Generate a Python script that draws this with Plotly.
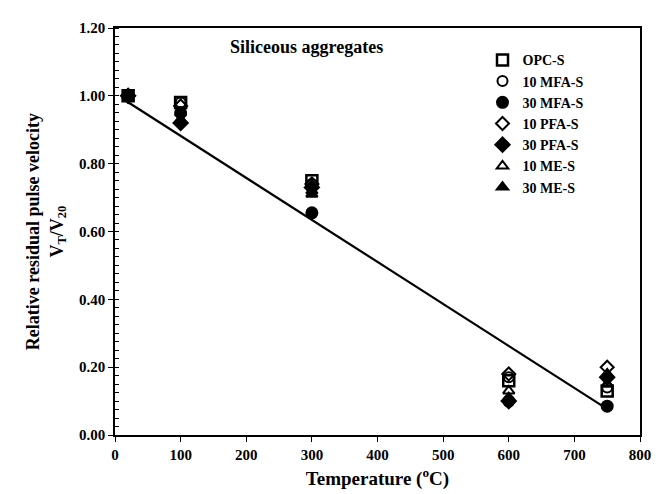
import plotly.graph_objects as go

temps = [20, 100, 300, 600, 750]
series_names = ["OPC-S", "10 MFA-S", "30 MFA-S", "10 PFA-S", "30 PFA-S", "10 ME-S", "30 ME-S"]
opc_s = [1.00, 0.98, 0.75, 0.16, 0.13]
mfa10_s = [1.00, 0.98, 0.74, 0.17, 0.14]
mfa30_s = [1.00, 0.95, 0.655, 0.10, 0.085]
pfa10_s = [1.00, 0.97, 0.74, 0.18, 0.20]
pfa30_s = [1.00, 0.92, 0.73, 0.10, 0.17]
me10_s = [1.00, 0.95, 0.72, 0.13, 0.15]
me30_s = [1.00, 0.93, 0.71, 0.11, 0.18]
fit_x = [20, 745]
fit_y = [0.981, 0.083]
x_ticks = [0, 100, 200, 300, 400, 500, 600, 700, 800]
y_ticks = [0.0, 0.2, 0.4, 0.6, 0.8, 1.0, 1.2]

values = [opc_s, mfa10_s, mfa30_s, pfa10_s, pfa30_s, me10_s, me30_s]
symbols = ["square-open", "circle-open", "circle", "diamond-open", "diamond",
           "triangle-up-open", "triangle-up"]
sizes = [11, 10, 11, 10, 11, 10, 10]
widths = [2.5, 2, 2, 2, 2, 2, 2]

FONT = "Liberation Serif"
fig = go.Figure()
fig.add_trace(go.Scatter(x=fit_x, y=fit_y, mode="lines",
                         line=dict(color="black", width=2.2), showlegend=False))
for name, vals, sym, sz, lw in zip(series_names, values, symbols, sizes, widths):
    fig.add_trace(go.Scatter(
        x=temps, y=vals, mode="markers", name="<b>" + name + "</b>",
        marker=dict(symbol=sym, size=sz, color="black",
                    line=dict(color="black", width=lw)),
    ))

fig.update_layout(
    width=661, height=494,
    margin=dict(l=107, r=29, t=14, b=67),
    paper_bgcolor="white", plot_bgcolor="white",
    font=dict(family=FONT, color="black"),
    legend=dict(x=0.70, y=0.96, xanchor="left", yanchor="top",
                font=dict(family=FONT, size=14, color="black"),
                bgcolor="rgba(0,0,0,0)", itemwidth=30, tracegroupgap=0),
    xaxis=dict(range=[0, 800], tickvals=x_ticks,
               ticktext=["<b>%d</b>" % v for v in x_ticks],
               showgrid=False, zeroline=False, showline=True, linecolor="black",
               linewidth=1.5, mirror=True, ticks="outside", ticklen=5,
               tickcolor="black", tickfont=dict(family=FONT, size=15),
               title=dict(text="<b>Temperature (<sup>o</sup>C)</b>",
                          font=dict(family=FONT, size=19), standoff=10)),
    yaxis=dict(range=[0, 1.2], tickvals=y_ticks,
               ticktext=["<b>%.2f</b>" % v for v in y_ticks],
               showgrid=False, zeroline=False, showline=True, linecolor="black",
               linewidth=1.5, mirror=True, ticks="outside", ticklen=5,
               tickcolor="black", tickfont=dict(family=FONT, size=15),
               minor=dict(dtick=0.025, ticks="inside", ticklen=4, tickcolor="black",
                          showgrid=False)),
)

fig.add_annotation(text="<b>Relative residual pulse velocity<br>V<sub>T</sub>/V<sub>20</sub></b>",
                   xref="paper", yref="paper", x=-0.132, y=0.5, xanchor="center",
                   yanchor="middle", textangle=-90, showarrow=False,
                   font=dict(family=FONT, size=18, color="black"))
fig.add_annotation(text="<b>Siliceous aggregates</b>", x=172, y=1.144,
                   xref="x", yref="y", xanchor="left", yanchor="middle",
                   showarrow=False, font=dict(family=FONT, size=18, color="black"))

fig.write_html("out.html")
